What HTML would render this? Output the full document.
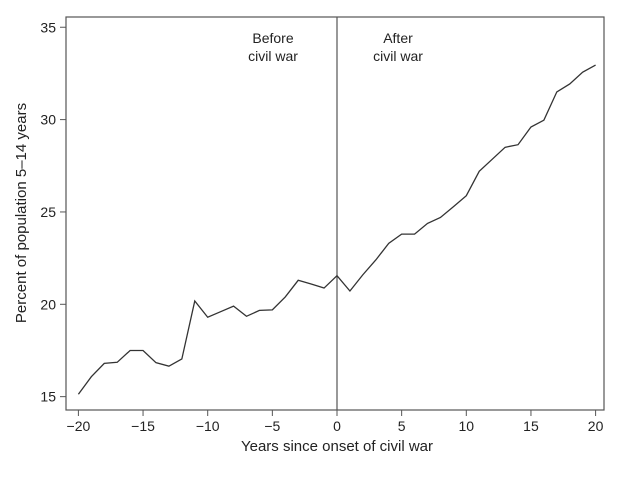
<!DOCTYPE html>
<html><head><meta charset="utf-8"><style>
body{margin:0;background:#fff}
text{font-family:"Liberation Sans",sans-serif;fill:#222}
</style></head><body>
<svg id="chart" width="624" height="472" viewBox="0 0 624 472" xmlns="http://www.w3.org/2000/svg">
<rect x="66" y="17" width="538" height="393" fill="none" stroke="#555" stroke-width="1.2"/>
<g id="axes"></g>
<text x="273" y="43" font-size="14" text-anchor="middle">Before</text>
<text x="273" y="61" font-size="14" text-anchor="middle">civil war</text>
<text x="398" y="43" font-size="14" text-anchor="middle">After</text>
<text x="398" y="61" font-size="14" text-anchor="middle">civil war</text>
<text x="337" y="451" font-size="15" text-anchor="middle">Years since onset of civil war</text>
<text transform="translate(26,213) rotate(-90)" font-size="15" text-anchor="middle">Percent of population 5–14 years</text>
</svg>
<script>
const years=[-20,-19,-18,-17,-16,-15,-14,-13,-12,-11,-10,-9,-8,-7,-6,-5,-4,-3,-2,-1,0,1,2,3,4,5,6,7,8,9,10,11,12,13,14,15,16,17,18,19,20];
const values=[15.13,16.08,16.8,16.86,17.5,17.5,16.84,16.65,17.04,20.18,19.3,19.6,19.9,19.35,19.67,19.7,20.4,21.3,21.1,20.88,21.55,20.72,21.6,22.4,23.3,23.8,23.8,24.38,24.7,25.28,25.88,27.2,27.85,28.5,28.64,29.6,29.97,31.5,31.93,32.57,32.95];
const xTicks=[-20,-15,-10,-5,0,5,10,15,20];
const yTicks=[15,20,25,30,35];
const NS="http://www.w3.org/2000/svg";
const X=v=>337+v*12.93;
const Y=v=>304.3-(v-20)*18.47;
const svg=document.getElementById('chart');
const g=document.getElementById('axes');
function mk(t,a){const e=document.createElementNS(NS,t);for(const k in a)e.setAttribute(k,a[k]);return e;}
xTicks.forEach(t=>{
 const l=mk('line',{x1:X(t),x2:X(t),y1:410,y2:416,stroke:'#555'});
 
 
 g.appendChild(l);
 const tx=mk('text',{x:X(t),y:431,'font-size':14,'text-anchor':'middle'});
 
 
 tx.textContent=t<0?'−'+(-t):String(t);
 g.appendChild(tx);
});
yTicks.forEach(t=>{
 const l=mk('line',{x1:60,x2:66,y1:Y(t),y2:Y(t),stroke:'#555'});
 
 
 g.appendChild(l);
 const tx=mk('text',{x:56,y:Y(t)+5,'font-size':14,'text-anchor':'end'});
 
 
 tx.textContent=String(t);
 g.appendChild(tx);
});
const vl=mk('line',{x1:X(0),x2:X(0),y1:17,y2:410,stroke:'#555','stroke-width':1.2});


g.appendChild(vl);
const p=mk('polyline',{points:years.map((y,i)=>X(y)+','+Y(values[i])).join(' '),fill:'none',stroke:'#333','stroke-width':1.3});


g.appendChild(p);
</script>
</body></html>
